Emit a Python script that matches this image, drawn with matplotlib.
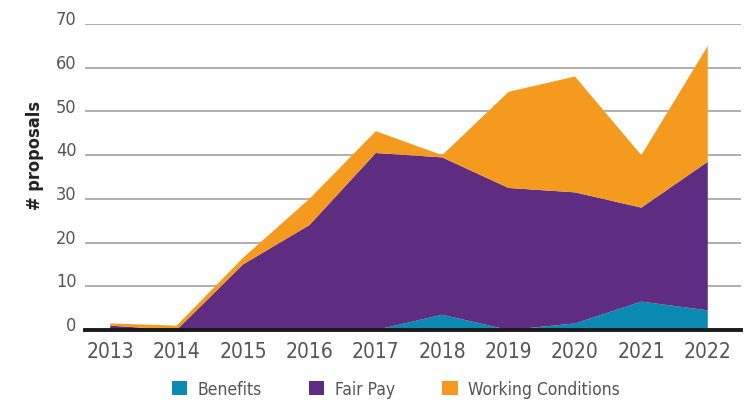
import matplotlib
matplotlib.use('Agg')
import matplotlib.pyplot as plt
import matplotlib.transforms as mtransforms
from matplotlib.patches import Patch

plt.rcParams['font.family'] = ['DejaVu Sans']
plt.rcParams['font.stretch'] = 'condensed'

years = [2013, 2014, 2015, 2016, 2017, 2018, 2019, 2020, 2021, 2022]
benefits = [0, 0, 0, 0, 0, 3.5, 0, 1.5, 6.5, 4.5]
fair_pay = [1, 0, 15, 24, 40.5, 36, 32.5, 30, 21.5, 34]
working = [0.5, 1, 1.5, 6, 5, 0.5, 22, 26.5, 12, 26.5]
labels = ['Benefits', 'Fair Pay', 'Working Conditions']
colors = ['#0A8AB3', '#5E2C80', '#F49A1F']

fig = plt.figure(figsize=(7.48, 4.02), dpi=100)
ax = fig.add_axes([0.1136, 0.1766, 0.877, 0.761])

ax.stackplot(years, benefits, fair_pay, working, colors=colors, linewidth=0, zorder=2)

ax.set_xlim(2012.62, 2022.5)
ax.set_ylim(0, 70)
ax.set_yticks(range(0, 71, 10))
ax.set_xticks(years)
ax.grid(axis='y', color='#9a9a9a', linewidth=1.1, zorder=1)
ax.set_axisbelow(True)
for s in ['top', 'right', 'left']:
    ax.spines[s].set_visible(False)
ax.spines['bottom'].set_color('#1a1a1a')
ax.spines['bottom'].set_linewidth(2.8)
ax.spines['bottom'].set_zorder(3)
ax.tick_params(axis='both', length=0, colors='#555555')
ax.tick_params(axis='x', labelsize=15, pad=8)
ax.tick_params(axis='y', labelsize=13, pad=6)

# y labels sit a bit above their gridline
off = mtransforms.ScaledTranslation(0, 5 / 72, fig.dpi_scale_trans)
for lab in ax.get_yticklabels():
    lab.set_transform(lab.get_transform() + off)

ax.set_ylabel('# proposals', fontsize=13, fontweight='bold', color='#222222')
ax.yaxis.set_label_coords(-0.062, 0.575)

handles = [Patch(facecolor=c, edgecolor='none') for c in colors]
fig.legend(handles, labels, loc='center', bbox_to_anchor=(0.529, 0.03), ncol=3,
           frameon=False, fontsize=12.5, handlelength=0.9, handleheight=0.9,
           handletextpad=0.6, columnspacing=2.7, labelcolor='#555555')

fig.savefig('out.png', dpi=100)
